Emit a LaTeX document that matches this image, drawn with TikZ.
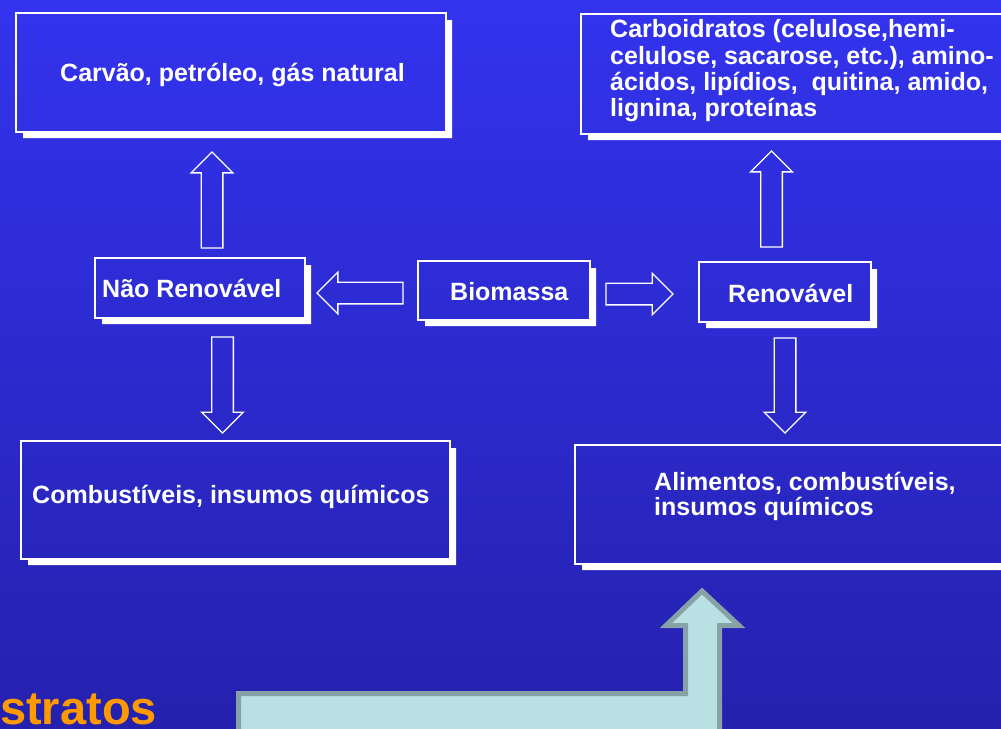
\documentclass[tikz,border=0pt]{standalone}
\usepackage{fontspec}
\setmainfont{Liberation Sans}
\usetikzlibrary{calc,shapes.arrows}
\definecolor{fundoA}{RGB}{51,51,238}
\definecolor{fundoB}{RGB}{37,33,174}
\definecolor{laranja}{RGB}{255,153,0}
\definecolor{ciano}{RGB}{185,224,227}
\definecolor{cinza}{RGB}{135,162,166}
\tikzset{
  caixa/.style={draw=white, line width=1.3pt, inner sep=0pt, outer sep=0pt, anchor=north west},
  texto/.style={text=white, font=\bfseries\fontsize{25}{26.3}\selectfont, inner sep=0pt, anchor=base west, align=left},
  seta/.style={single arrow, draw=white, line width=1.3pt, inner xsep=0pt, inner ysep=10.2pt, outer sep=0pt,
    minimum width=41pt, single arrow head extend=10pt, single arrow tip angle=90, anchor=tail},
}
\newcommand{\sombra}[1]{\fill[white] ($(#1.south west)+(7,0)$) -| ($(#1.north east)+(0,7)$) -- ++(6,0) |- ($(#1.south west)+(7,6)$) -- cycle;}

\begin{document}
\begin{tikzpicture}[x=1pt, y=-1pt]
        \useasboundingbox (0,0) rectangle (1001,728);
        \clip (0,0) rectangle (1001,728);
        \shade[top color=fundoA, bottom color=fundoB] (0,0) rectangle (1001,728);

        \node[caixa, minimum width=430pt, minimum height=119pt] (fos) at (16,13) {};
        \node[caixa, minimum width=440pt, minimum height=120pt] (carb) at (581,14) {};
        \node[caixa, minimum width=210pt, minimum height=60pt] (nren) at (95,258) {};
        \node[caixa, minimum width=172pt, minimum height=59pt] (bio) at (418,261) {};
        \node[caixa, minimum width=172pt, minimum height=60pt] (ren) at (699,262) {};
        \node[caixa, minimum width=429pt, minimum height=118pt] (comb) at (21,441) {};
        \node[caixa, minimum width=440pt, minimum height=119pt] (alim) at (575,445) {};
        \sombra{fos} \sombra{carb} \sombra{nren} \sombra{bio}
        \sombra{ren} \sombra{comb} \sombra{alim}

        \node[texto] (tfos) at (60,81) {Carvão, petróleo, gás natural};
        \node[texto] (tcarb) at (610,116.7) {Carboidratos (celulose,hemi-\\celulose, sacarose, etc.), amino-\\ácidos, lipídios,\ \ quitina, amido,\\lignina, proteínas};
        \node[texto] (tnren) at (102,297) {Não Renovável};
        \node[texto] (tbio) at (450,300) {Biomassa};
        \node[texto] (tren) at (728,302) {Renovável};
        \node[texto] (tcomb) at (32,503) {Combustíveis, insumos químicos};
        \node[texto, font=\bfseries\fontsize{25}{25.5}\selectfont] (talim) at (654,515.5) {Alimentos, combustíveis,\\insumos químicos};

        \node[seta, minimum height=96pt, rotate=90] (s1) at (212,248) {};
        \node[seta, minimum height=96pt, rotate=90] (s2) at (771.5,247) {};
        \node[seta, minimum height=86pt, rotate=180] (s3) at (403,293) {};
        \node[seta, minimum height=67pt] (s4) at (606,294) {};
        \node[seta, minimum height=96pt, rotate=-90] (s5) at (222.5,337) {};
        \node[seta, minimum height=95pt, rotate=-90] (s6) at (785,338) {};

        \draw[fill=ciano, draw=cinza, line width=5pt] (238.5,740) -- (238.5,693.5) -- (685.5,693.5)
          -- (685.5,625.5) -- (666,625.5) -- (702,591) -- (739,625.5) -- (719.5,625.5) -- (719.5,740) -- cycle;
        \node[text=laranja, font=\bfseries\fontsize{47}{50}\selectfont, inner sep=0pt, anchor=base west] (sub) at (0,724) {stratos};
\end{tikzpicture}
\end{document}
